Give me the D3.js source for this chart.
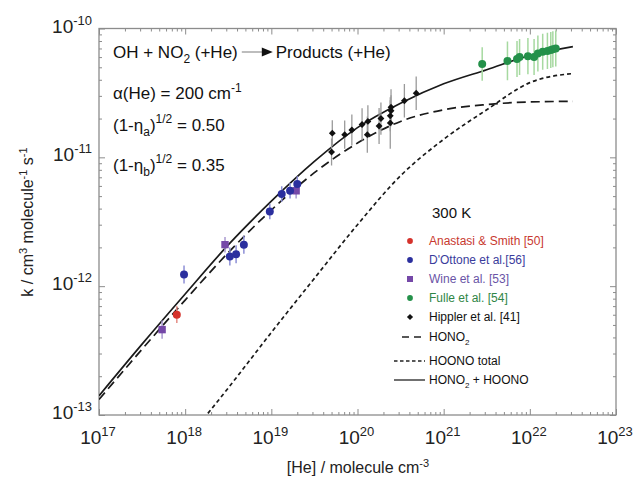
<!DOCTYPE html>
<html>
<head>
<meta charset="utf-8">
<script src="https://cdnjs.cloudflare.com/ajax/libs/d3/7.8.5/d3.min.js"></script>
<style>
  body { margin: 0; background: #fff; }
  svg text { font-family: "Liberation Sans", Arial, sans-serif; }
</style>
</head>
<body>
<div id="content"></div>
<script>
// data: [He] (molecule cm-3), k (cm3 molecule-1 s-1), e = half error bar in decades
const anastasi = [[8.0e17, 6.0e-13, 0.065]];
const dottone = [
  [9.7e17, 1.23e-12, 0.07], [3.3e18, 1.7e-12, 0.07], [3.9e18, 1.77e-12, 0.07],
  [4.8e18, 2.1e-12, 0.07], [9.6e18, 3.8e-12, 0.06], [1.32e19, 5.2e-12, 0.06],
  [1.65e19, 5.5e-12, 0.06], [2.0e19, 6.2e-12, 0.06]
];
const wine = [[5.4e17, 4.6e-13, 0.07], [2.9e18, 2.1e-12, 0.06], [1.94e19, 5.5e-12, 0.06]];
const fulle = [
  [2.8e21, 5.3e-11, 0.13], [5.5e21, 5.6e-11, 0.15], [7.1e21, 5.8e-11, 0.14],
  [7.6e21, 6.0e-11, 0.14], [9.5e21, 6.1e-11, 0.14], [1.12e22, 6.0e-11, 0.14],
  [1.24e22, 6.4e-11, 0.14], [1.41e22, 6.6e-11, 0.14], [1.6e22, 6.7e-11, 0.14],
  [1.75e22, 6.8e-11, 0.14], [1.85e22, 6.9e-11, 0.14], [2.0e22, 7.0e-11, 0.14]
];
const hippler = [
  [5.0e19, 1.1e-11, 0.105], [5.1e19, 1.54e-11, 0.10], [7.1e19, 1.5e-11, 0.11],
  [8.6e19, 1.63e-11, 0.12], [1.13e20, 1.8e-11, 0.125], [1.32e20, 1.9e-11, 0.125],
  [1.3e20, 1.5e-11, 0.14], [1.78e20, 1.75e-11, 0.14], [1.87e20, 2.0e-11, 0.125],
  [2.4e20, 1.85e-11, 0.2], [2.4e20, 2.1e-11, 0.12], [2.45e20, 2.3e-11, 0.12],
  [2.45e20, 2.45e-11, 0.14], [3.5e20, 2.75e-11, 0.13], [4.8e20, 3.15e-11, 0.13]
];

// model curves, sampled every half decade
const curveN = [1e17, 3.16e17, 1e18, 3.16e18, 1e19, 3.16e19, 1e20, 3.16e20, 1e21, 3.16e21, 1e22, 3.16e22];
const kTotal = [1.41e-13, 3.55e-13, 8.7e-13, 2.09e-12, 4.57e-12, 9.3e-12, 1.7e-11, 2.63e-11, 3.72e-11, 4.79e-11, 6.17e-11, 7.24e-11];
const kHono2 = [1.32e-13, 3.24e-13, 7.8e-13, 1.82e-12, 3.9e-12, 7.6e-12, 1.29e-11, 1.9e-11, 2.34e-11, 2.57e-11, 2.69e-11, 2.72e-11];
const kHoono = [8.9e-15, 2.3e-14, 6.2e-14, 1.62e-13, 4.37e-13, 1.15e-12, 3.0e-12, 7.2e-12, 1.38e-11, 2.34e-11, 3.8e-11, 4.47e-11];

const xTickPowers = [17, 18, 19, 20, 21, 22, 23];
const yTickPowers = [-13, -12, -11, -10];

const W = 635, H = 481;
const p_left = 99, p_right = 616, p_top = 28.5, p_bottom = 415;
const axis_color = "#8c8c8c";

const svg = d3.select("#content").append("svg")
    .attr("width", W).attr("height", H);

const x = d3.scaleLog().domain([1e17, 1e23]).range([p_left, p_right]);
const y = d3.scaleLog().domain([1e-13, 1e-10]).range([p_bottom, p_top]);

svg.append("clipPath").attr("id", "plotclip")
  .append("rect").attr("x", p_left).attr("y", p_top)
  .attr("width", p_right - p_left).attr("height", p_bottom - p_top);

// axes: ticks pointing inward on all four sides
const isMajor = v => Math.abs(Math.log10(v) - Math.round(Math.log10(v))) < 1e-6;
const xMinor = x.ticks().filter(v => !isMajor(v));
const yMinor = y.ticks().filter(v => !isMajor(v));
const xMajor = xTickPowers.map(p => Math.pow(10, p));
const yMajor = yTickPowers.map(p => Math.pow(10, p));

function drawAxis(gen, tr) {
  const g = svg.append("g").attr("transform", tr).call(gen);
  g.selectAll("line").attr("stroke", axis_color).attr("stroke-width", 1);
  g.select(".domain").remove();
  return g;
}
drawAxis(d3.axisBottom(x).tickValues(xMajor).tickSize(-6).tickFormat(""), `translate(0,${p_bottom})`);
drawAxis(d3.axisBottom(x).tickValues(xMinor).tickSize(-3).tickFormat(""), `translate(0,${p_bottom})`);
drawAxis(d3.axisTop(x).tickValues(xMajor).tickSize(-6).tickFormat(""), `translate(0,${p_top})`);
drawAxis(d3.axisTop(x).tickValues(xMinor).tickSize(-3).tickFormat(""), `translate(0,${p_top})`);
drawAxis(d3.axisLeft(y).tickValues(yMajor).tickSize(-6).tickFormat(""), `translate(${p_left},0)`);
drawAxis(d3.axisLeft(y).tickValues(yMinor).tickSize(-3).tickFormat(""), `translate(${p_left},0)`);
drawAxis(d3.axisRight(y).tickValues(yMajor).tickSize(-6).tickFormat(""), `translate(${p_right},0)`);
drawAxis(d3.axisRight(y).tickValues(yMinor).tickSize(-3).tickFormat(""), `translate(${p_right},0)`);

svg.append("rect")
    .attr("x", p_left).attr("y", p_top)
    .attr("width", p_right - p_left).attr("height", p_bottom - p_top)
    .attr("fill", "none").attr("stroke", axis_color).attr("stroke-width", 1.3);

// tick labels with superscript exponents
xTickPowers.forEach(p => {
  const t = svg.append("text")
      .attr("x", x(Math.pow(10, p)) - 1).attr("y", 444)
      .attr("text-anchor", "middle").attr("font-size", 19).attr("fill", "#222");
  t.append("tspan").text("10");
  t.append("tspan").attr("dy", -8).attr("font-size", 13).text(p);
});
yTickPowers.forEach(p => {
  const t = svg.append("text")
      .attr("x", 92).attr("y", y(Math.pow(10, p)) + 4)
      .attr("text-anchor", "end").attr("font-size", 19).attr("fill", "#222");
  t.append("tspan").text("10");
  t.append("tspan").attr("dy", -8).attr("font-size", 13).text(p);
});

// axis titles
const xt = svg.append("text")
    .attr("x", 358).attr("y", 473)
    .attr("text-anchor", "middle").attr("font-size", 16).attr("fill", "#222");
xt.append("tspan").text("[He] / molecule cm");
xt.append("tspan").attr("dy", -6).attr("font-size", 11).text("-3");

const yt = svg.append("text")
    .attr("transform", "translate(33,222) rotate(-90)")
    .attr("text-anchor", "middle").attr("font-size", 16).attr("fill", "#222");
yt.append("tspan").text("k / cm");
yt.append("tspan").attr("dy", -6).attr("font-size", 11).text("3");
yt.append("tspan").attr("dy", 6).text(" molecule");
yt.append("tspan").attr("dy", -6).attr("font-size", 11).text("-1");
yt.append("tspan").attr("dy", 6).text(" s");
yt.append("tspan").attr("dy", -6).attr("font-size", 11).text("-1");

// model curves
const plot = svg.append("g").attr("clip-path", "url(#plotclip)");
const line = d3.line()
    .x(d => x(d[0])).y(d => y(d[1]))
    .curve(d3.curveMonotoneX);

const curves = [
  { k: kHoono, dash: "4,3" },
  { k: kHono2, dash: "9,5" },
  { k: kTotal, dash: null }
];
curves.forEach(c => {
  plot.append("path")
      .datum(curveN.map((n, i) => [n, c.k[i]]))
      .attr("d", line)
      .attr("fill", "none")
      .attr("stroke", "#1a1a1a")
      .attr("stroke-width", 1.7)
      .attr("stroke-dasharray", c.dash);
});

// data points
function errorBars(data, color, width) {
  plot.selectAll(null).data(data).enter().append("line")
      .attr("x1", d => x(d[0])).attr("x2", d => x(d[0]))
      .attr("y1", d => y(d[1] / Math.pow(10, d[2])))
      .attr("y2", d => y(d[1] * Math.pow(10, d[2])))
      .attr("stroke", color).attr("stroke-width", width);
}
errorBars(hippler, "#9a9a9a", 1.3);
errorBars(fulle, "#a6d9a0", 1.5);
errorBars(dottone, "#8d8fd6", 1.5);
errorBars(wine, "#a99ad0", 1.5);
errorBars(anastasi, "#e58c84", 1.5);

const sym_circle = d3.symbol().type(d3.symbolCircle).size(50);
const sym_square = d3.symbol().type(d3.symbolSquare).size(55);
const sym_diamond = d3.symbol().type(d3.symbolDiamond2).size(30);

function points(data, sym, color) {
  plot.selectAll(null).data(data).enter().append("path")
      .attr("d", sym)
      .attr("transform", d => `translate(${x(d[0])},${y(d[1])})`)
      .attr("fill", color);
}
points(hippler, sym_diamond, "#111");
points(fulle, sym_circle, "#24914a");
points(wine, sym_square, "#7548a8");
points(dottone, sym_circle, "#2b2f9e");
points(anastasi, sym_circle, "#d5322b");

// annotation block
const ann = svg.append("g").attr("font-size", 17).attr("fill", "#111");
const t1 = ann.append("text").attr("x", 113).attr("y", 58);
t1.append("tspan").text("OH + NO");
t1.append("tspan").attr("dy", 5).attr("font-size", 12).text("2");
t1.append("tspan").attr("dy", -5).text(" (+He)");
const t1w = t1.node().getComputedTextLength();
const ax0 = 113 + t1w + 4;
ann.append("line").attr("x1", ax0).attr("x2", ax0 + 21)
    .attr("y1", 52).attr("y2", 52).attr("stroke", "#999").attr("stroke-width", 1.3);
ann.append("path")
    .attr("d", `M${ax0 + 20},47.5 L${ax0 + 31},52 L${ax0 + 20},56.5 Z`).attr("fill", "#111");
ann.append("text").attr("x", ax0 + 34).attr("y", 58).text("Products (+He)");

const t2 = ann.append("text").attr("x", 113).attr("y", 99);
t2.append("tspan").text("\u03b1(He) = 200 cm");
t2.append("tspan").attr("dy", -7).attr("font-size", 12).text("-1");

const t3 = ann.append("text").attr("x", 113).attr("y", 131);
t3.append("tspan").text("(1-\u03b7");
t3.append("tspan").attr("dy", 5).attr("font-size", 12).text("a");
t3.append("tspan").attr("dy", -5).text(")");
t3.append("tspan").attr("dy", -8).attr("font-size", 12).text("1/2");
t3.append("tspan").attr("dy", 8).text(" = 0.50");

const t4 = ann.append("text").attr("x", 113).attr("y", 171);
t4.append("tspan").text("(1-\u03b7");
t4.append("tspan").attr("dy", 5).attr("font-size", 12).text("b");
t4.append("tspan").attr("dy", -5).text(")");
t4.append("tspan").attr("dy", -8).attr("font-size", 12).text("1/2");
t4.append("tspan").attr("dy", 8).text(" = 0.35");

// legend
svg.append("text").attr("x", 432).attr("y", 218)
    .attr("font-size", 15).attr("fill", "#111").text("300 K");

const legendRows = [
  { name: "Anastasi & Smith [50]", type: d3.symbolCircle, size: 26, color: "#d5322b", text: "#c8382f", y: 241 },
  { name: "D'Ottone et al.[56]", type: d3.symbolCircle, size: 26, color: "#2b2f9e", text: "#3a3c9c", y: 260 },
  { name: "Wine et al. [53]", type: d3.symbolSquare, size: 36, color: "#7548a8", text: "#6a54a6", y: 279 },
  { name: "Fulle et al. [54]", type: d3.symbolCircle, size: 26, color: "#24914a", text: "#2f8646", y: 298 },
  { name: "Hippler et al. [41]", type: d3.symbolDiamond2, size: 24, color: "#111", text: "#111", y: 317 }
];
const leg = svg.append("g").attr("font-size", 12);
legendRows.forEach(r => {
  leg.append("path").attr("d", d3.symbol().type(r.type).size(r.size))
      .attr("transform", `translate(410,${r.y})`).attr("fill", r.color);
  leg.append("text").attr("x", 429).attr("y", r.y + 4).attr("fill", r.text).text(r.name);
});

const lineRows = [
  { label: ["HONO", "2", ""], dash: "7,5", x0: 402, y: 337 },
  { label: ["HOONO total", "", ""], dash: "3.5,2.5", x0: 394, y: 361 },
  { label: ["HONO", "2", " + HOONO"], dash: null, x0: 394, y: 380 }
];
lineRows.forEach(r => {
  leg.append("line").attr("x1", r.x0).attr("x2", 425)
      .attr("y1", r.y).attr("y2", r.y)
      .attr("stroke", "#222").attr("stroke-width", 1.3)
      .attr("stroke-dasharray", r.dash);
  const t = leg.append("text").attr("x", 429).attr("y", r.y + 4).attr("fill", "#111");
  t.append("tspan").text(r.label[0]);
  if (r.label[1]) {
    t.append("tspan").attr("dy", 4).attr("font-size", 8).text(r.label[1]);
    t.append("tspan").attr("dy", -4).text(r.label[2]);
  }
});
</script>
</body>
</html>
